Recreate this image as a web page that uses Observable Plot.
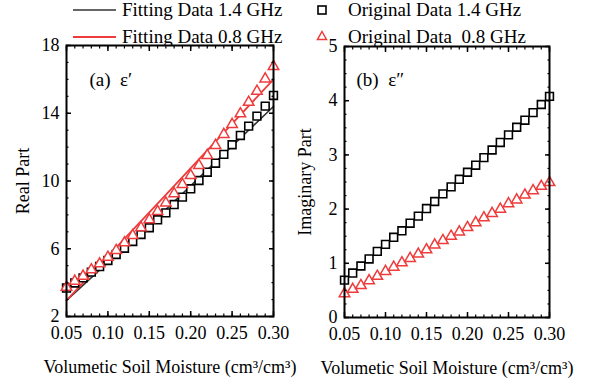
<!DOCTYPE html>
<html><head><meta charset="utf-8">
<script src="https://cdn.jsdelivr.net/npm/d3@7"></script>
<script src="https://cdn.jsdelivr.net/npm/@observablehq/plot@0.6"></script>
<style>
body{margin:0;background:#fff;font-family:"Liberation Serif","Times New Roman",serif;}
#wrap{position:relative;width:608px;height:385px;overflow:hidden;background:#fff;}
#legend{position:absolute;left:0;top:0;}
#p1{position:absolute;left:0;top:40px;}
#p2{position:absolute;left:290px;top:40px;}
#wrap svg text{font-family:"Liberation Serif","Times New Roman",serif;}
</style></head><body>
<div id="wrap">
<svg id="legend" width="608" height="46" font-size="19">
  <line x1="73" x2="116" y1="10" y2="10" stroke="#333" stroke-width="1.6"/>
  <text x="122" y="10" dy="0.33em">Fitting Data 1.4 GHz</text>
  <rect x="318" y="6" width="8" height="8" fill="#fff" stroke="#000" stroke-width="1.6"/>
  <text x="348" y="10" dy="0.33em">Original Data 1.4 GHz</text>
  <line x1="73" x2="116" y1="37" y2="37" stroke="#ee3b3b" stroke-width="1.8"/>
  <text x="122" y="37" dy="0.33em">Fitting Data 0.8 GHz</text>
  <polygon points="322,31.5 326.5,39.5 317.5,39.5" fill="#fff" stroke="#ee3b3b" stroke-width="1.5"/>
  <text x="348" y="37" dy="0.33em" xml:space="preserve">Original Data  0.8 GHz</text>
</svg>
<div id="p1"></div>
<div id="p2"></div>
</div>
<script>
// ---- data ----
const moisture = [0.05,0.06,0.07,0.08,0.09,0.10,0.11,0.12,0.13,0.14,0.15,0.16,0.17,0.18,0.19,0.20,0.21,0.22,0.23,0.24,0.25,0.26,0.27,0.28,0.29,0.30];
const realOrig14 = [3.68,3.98,4.28,4.62,4.95,5.31,5.66,6.03,6.43,6.84,7.24,7.71,8.12,8.61,9.05,9.54,10.03,10.52,11.05,11.57,12.14,12.69,13.24,13.83,14.42,15.05];
const realOrig08 = [3.73,4.09,4.38,4.76,5.11,5.50,5.90,6.35,6.78,7.24,7.71,8.20,8.71,9.25,9.79,10.33,10.92,11.51,12.10,12.75,13.34,13.97,14.65,15.30,16.03,16.76];
const imagOrig14 = [0.69,0.82,0.95,1.08,1.22,1.35,1.48,1.60,1.74,1.87,2.01,2.14,2.28,2.41,2.55,2.68,2.81,2.95,3.09,3.23,3.37,3.51,3.64,3.78,3.93,4.08];
const imagOrig08 = [0.44,0.52,0.59,0.68,0.76,0.85,0.93,1.01,1.09,1.17,1.25,1.34,1.42,1.50,1.58,1.66,1.75,1.84,1.92,2.00,2.10,2.17,2.26,2.34,2.42,2.49];
const fitMoisture = [0.05,0.175,0.30];
const realFit14 = [2.95,8.55,14.4];
const realFit08 = [2.95,9.45,16.0];
const xTicks = [0.05,0.10,0.15,0.20,0.25,0.30];
const realTicks = [2,6,10,14,18];
const imagTicks = [0,1,2,3,4,5];
const xLabel = "Volumetic Soil Moisture (cm³/cm³)";

const xMinor = d3.range(5,31).map(v=>v/100);
const realMinor = d3.range(2,19);
const imagMinor = d3.range(0,21).map(v=>v/4);

const red = "#ee3b3b";
const font = {fontFamily:'"Liberation Serif", "Times New Roman", serif', fontSize:"18px", color:"black", background:"transparent", overflow:"visible"};

function axes(yTicks, yMinor, yLabel, yLabelOffset) {
  const blank = () => "";
  return [
    Plot.axisX(xTicks, {anchor:"bottom", tickSize:-5, tickPadding:15, strokeWidth:1.5, tickFormat:d=>d.toFixed(2), label:xLabel, labelAnchor:"center", labelOffset:56, labelArrow:"none"}),
    Plot.axisX(xMinor, {anchor:"bottom", tickSize:-2.5, strokeWidth:1.2, tickFormat:blank, label:null}),
    Plot.axisX(xTicks, {anchor:"top", tickSize:-5, strokeWidth:1.5, tickFormat:blank, label:null}),
    Plot.axisX(xMinor, {anchor:"top", tickSize:-2.5, strokeWidth:1.2, tickFormat:blank, label:null}),
    Plot.axisY(yTicks, {anchor:"left", tickSize:-5, tickPadding:12, strokeWidth:1.5, tickFormat:d=>String(d), label:yLabel, labelAnchor:"center", labelOffset:yLabelOffset, labelArrow:"none"}),
    Plot.axisY(yMinor, {anchor:"left", tickSize:-2.5, strokeWidth:1.2, tickFormat:blank, label:null}),
    Plot.axisY(yTicks, {anchor:"right", tickSize:-5, strokeWidth:1.5, tickFormat:blank, label:null}),
    Plot.axisY(yMinor, {anchor:"right", tickSize:-2.5, strokeWidth:1.2, tickFormat:blank, label:null}),
    Plot.frame({stroke:"black", strokeWidth:2})
  ];
}

const realRows = moisture.map((m,i)=>({m, s14:realOrig14[i], s08:realOrig08[i]}));
const realFitRows = fitMoisture.map((m,i)=>({m, f14:realFit14[i], f08:realFit08[i]}));
const imagRows = moisture.map((m,i)=>({m, s14:imagOrig14[i], s08:imagOrig08[i]}));

const p1 = Plot.plot({
  width:290, height:345, marginLeft:66, marginRight:17, marginTop:5, marginBottom:69,
  x:{domain:[0.05,0.30]}, y:{domain:[2,18]},
  style:font,
  marks:[
    Plot.line(realFitRows, {x:"m", y:"f14", stroke:"#333", strokeWidth:1.6}),
    Plot.line(realFitRows, {x:"m", y:"f08", stroke:red, strokeWidth:1.8}),
    Plot.dot(realRows, {x:"m", y:"s14", symbol:"square", r:4.4, stroke:"black", strokeWidth:1.6, fill:"white"}),
    Plot.dot(realRows, {x:"m", y:"s08", symbol:"triangle", r:3.9, stroke:red, strokeWidth:1.5, fill:"white"}),
    Plot.text(["(a)\u00a0 ε′"], {frameAnchor:"top-left", dx:23, dy:27, fontSize:19, textAnchor:"start"}),
    ...axes(realTicks, realMinor, "Real Part", 50)
  ]
});
document.getElementById("p1").appendChild(p1);

const p2 = Plot.plot({
  width:318, height:345, marginLeft:54, marginRight:59, marginTop:6, marginBottom:68,
  x:{domain:[0.05,0.30]}, y:{domain:[0,5]},
  style:font,
  marks:[
    Plot.dot(imagRows, {x:"m", y:"s14", symbol:"square", r:4.4, stroke:"black", strokeWidth:1.6, fill:"white"}),
    Plot.dot(imagRows, {x:"m", y:"s08", symbol:"triangle", r:3.9, stroke:red, strokeWidth:1.5, fill:"white"}),
    Plot.text(["(b)\u00a0 ε″"], {frameAnchor:"top-left", dx:12, dy:26, fontSize:19, textAnchor:"start"}),
    ...axes(imagTicks, imagMinor, "Imaginary Part", 46)
  ]
});
document.getElementById("p2").appendChild(p2);
</script>
</body></html>
